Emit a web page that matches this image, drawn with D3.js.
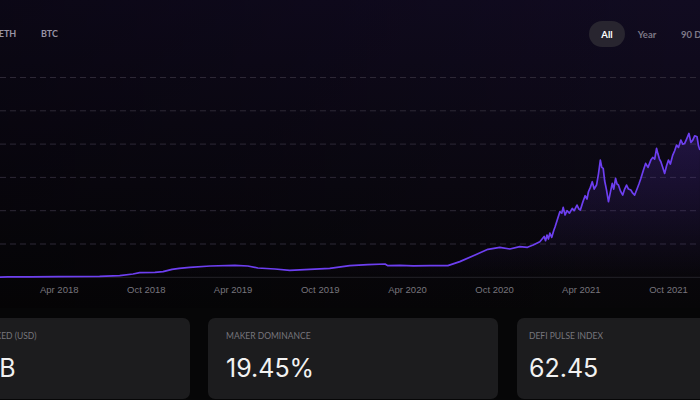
<!DOCTYPE html>
<html>
<head>
<meta charset="utf-8">
<script src="https://cdn.jsdelivr.net/npm/d3@7"></script>
<style>
  html, body { margin: 0; padding: 0; background: #060607; }
  svg { display: block; }
</style>
</head>
<body>
<div id="chart"></div>
<script>
// locked value series (units = gridline steps of 20)
var dates = [
  "2017-11-01", "2017-12-15", "2018-02-01", "2018-04-01", "2018-06-26", "2018-08-07",
  "2018-09-04", "2018-09-18", "2018-10-20", "2018-11-06", "2018-11-25", "2018-12-10",
  "2019-01-01", "2019-02-13", "2019-04-06", "2019-05-03", "2019-05-24", "2019-06-29",
  "2019-07-30", "2019-09-10", "2019-10-22", "2019-12-03", "2020-01-10", "2020-02-15",
  "2020-02-21", "2020-03-17", "2020-04-15", "2020-05-19", "2020-06-26", "2020-07-21",
  "2020-08-22", "2020-09-18", "2020-10-13", "2020-11-03", "2020-11-24", "2020-12-10",
  "2020-12-22", "2021-01-05", "2021-01-14", "2021-01-17", "2021-01-20", "2021-01-23",
  "2021-01-26", "2021-01-30", "2021-02-03", "2021-02-06", "2021-02-10", "2021-02-16",
  "2021-02-20", "2021-02-23", "2021-02-27", "2021-03-03", "2021-03-08", "2021-03-14",
  "2021-03-18", "2021-03-24", "2021-03-28", "2021-03-31", "2021-04-05", "2021-04-10",
  "2021-04-14", "2021-04-17", "2021-04-21", "2021-04-25", "2021-04-29", "2021-05-04",
  "2021-05-08", "2021-05-12", "2021-05-15", "2021-05-18", "2021-05-21", "2021-05-25",
  "2021-05-29", "2021-06-02", "2021-06-06", "2021-06-09", "2021-06-13", "2021-06-16",
  "2021-06-19", "2021-06-23", "2021-06-28", "2021-07-02", "2021-07-06", "2021-07-10",
  "2021-07-15", "2021-07-19", "2021-07-23", "2021-07-28", "2021-08-01", "2021-08-05",
  "2021-08-10", "2021-08-15", "2021-08-20", "2021-08-26", "2021-08-30", "2021-09-03",
  "2021-09-07", "2021-09-10", "2021-09-13", "2021-09-16", "2021-09-20", "2021-09-24",
  "2021-09-28", "2021-10-02", "2021-10-06", "2021-10-11", "2021-10-15", "2021-10-19",
  "2021-10-23", "2021-10-28", "2021-11-01", "2021-11-05", "2021-11-09", "2021-11-14",
  "2021-11-18", "2021-11-22", "2021-11-26", "2021-12-01", "2021-12-04", "2021-12-07"
];
var values = [
  0.1, 0.2, 0.3, 0.4, 0.5, 1.0,
  2.0, 2.8, 3.0, 3.4, 4.8, 5.4,
  6.0, 6.8, 7.2, 6.8, 5.6, 5.0,
  4.2, 4.8, 5.4, 7.0, 7.6, 8.0,
  7.0, 7.2, 6.9, 7.0, 7.0, 9.4,
  13.4, 16.8, 18.0, 17.0, 18.4, 18.0,
  19.4, 21.4, 24.5, 22.0, 25.4, 23.0,
  26.5, 24.0, 28.0, 30.4, 34.0, 39.4,
  38.5, 42.0, 37.4, 40.0, 38.5, 41.4,
  40.0, 43.4, 41.0, 40.4, 45.0, 49.0,
  47.0, 51.4, 54.0, 57.4, 53.0, 55.4,
  62.0, 70.4, 66.0, 65.4, 58.0, 52.4,
  45.4, 51.0, 56.4, 53.0, 59.4, 56.0,
  55.4, 52.0, 49.4, 53.0, 55.4, 53.0,
  52.4, 50.5, 49.4, 53.0, 56.0, 59.4,
  64.0, 68.4, 66.0, 70.4, 72.0, 71.0,
  77.4, 74.0, 71.0, 69.4, 66.0, 62.4,
  67.0, 70.4, 68.0, 73.4, 76.0, 79.4,
  78.0, 82.4, 80.0, 80.4, 83.0, 86.4,
  81.0, 82.4, 85.0, 84.4, 79.0, 76.4
];
var tickDates = ["2018-04-01", "2018-10-01", "2019-04-01", "2019-10-01",
                 "2020-04-01", "2020-10-01", "2021-04-01", "2021-10-01"];
var yTicks = [0, 20, 40, 60, 80, 100, 120];
var tokenTabs = ["ETH", "BTC"];
var rangeTabs = ["All", "Year", "90 Days"];
var cardLabels = ["TOTAL VALUE LOCKED (USD)", "MAKER DOMINANCE", "DEFI PULSE INDEX"];
var cardValues = ["$84.62B", "19.45%", "62.45"];

var vWidth = 700, vHeight = 400;
var parseDate = d3.timeParse("%Y-%m-%d");
var vData = dates.map(function (d, i) { return { date: parseDate(d), value: values[i] }; });

var svg = d3.select("#chart").append("svg")
  .attr("width", vWidth)
  .attr("height", vHeight);

var defs = svg.append("defs");
var bgGrad = defs.append("linearGradient").attr("id", "bg-v")
  .attr("x1", 0).attr("y1", 0).attr("x2", 0).attr("y2", 1);
bgGrad.append("stop").attr("offset", "0%").attr("stop-color", "#110b21");
bgGrad.append("stop").attr("offset", "100%").attr("stop-color", "#070608");
var bgShade = defs.append("linearGradient").attr("id", "bg-h")
  .attr("x1", 0).attr("y1", 0).attr("x2", 1).attr("y2", 0);
bgShade.append("stop").attr("offset", "0%").attr("stop-color", "#000").attr("stop-opacity", 0.35);
bgShade.append("stop").attr("offset", "100%").attr("stop-color", "#000").attr("stop-opacity", 0);
var areaGrad = defs.append("linearGradient").attr("id", "area-fill")
  .attr("gradientUnits", "userSpaceOnUse")
  .attr("x1", 0).attr("y1", 77).attr("x2", 0).attr("y2", 277);
areaGrad.append("stop").attr("offset", "0%").attr("stop-color", "#6a3ce0").attr("stop-opacity", 0.3);
areaGrad.append("stop").attr("offset", "100%").attr("stop-color", "#6a3ce0").attr("stop-opacity", 0);

// panel background
svg.append("rect").attr("width", vWidth).attr("height", 308).attr("fill", "url(#bg-v)");
svg.append("rect").attr("width", vWidth).attr("height", 308).attr("fill", "url(#bg-h)");

// scales
var x = d3.scaleTime()
  .domain([parseDate("2018-04-01"), parseDate("2021-10-01")])
  .range([58.7, 668]);
var y = d3.scaleLinear().domain([0, 120]).range([277.3, 77.5]);

// gridlines
svg.append("g").selectAll("line")
  .data(yTicks)
  .enter().append("line")
    .attr("x1", 0).attr("x2", vWidth)
    .attr("y1", function (d) { return y(d); })
    .attr("y2", function (d) { return y(d); })
    .attr("stroke", function (d) { return d === 0 ? "#242228" : "#2d2836"; })
    .attr("stroke-dasharray", function (d) { return d === 0 ? null : "6,4"; })
    .attr("stroke-width", 1);

// area + line
var area = d3.area()
  .x(function (d) { return x(d.date); })
  .y0(y(0))
  .y1(function (d) { return y(d.value); });
var line = d3.line()
  .x(function (d) { return x(d.date); })
  .y(function (d) { return y(d.value); });

svg.append("path").datum(vData).attr("d", area).attr("fill", "url(#area-fill)");
svg.append("path").datum(vData).attr("d", line)
  .attr("fill", "none")
  .attr("stroke", "#6d3ff0")
  .attr("stroke-width", 1.7)
  .attr("stroke-linejoin", "round");

// x axis
var xAxis = svg.append("g")
  .attr("transform", "translate(0," + y(0) + ")")
  .call(d3.axisBottom(x)
    .tickValues(tickDates.map(parseDate))
    .tickFormat(d3.timeFormat("%b %Y"))
    .tickSize(0).tickPadding(9));
xAxis.select(".domain").remove();
xAxis.selectAll("text")
  .attr("fill", "#77757d")
  .style("font-family", "'Liberation Sans', Arial, sans-serif")
  .style("font-size", "9.5px");

// tabs
svg.append("g").selectAll("text")
  .data(tokenTabs)
  .enter().append("text")
    .attr("x", function (d, i) { return 7.5 + i * 42; })
    .attr("y", 37)
    .attr("text-anchor", "middle")
    .attr("fill", "#9893a4")
    .style("font-family", "Lato, sans-serif")
    .style("font-weight", 700)
    .style("font-size", "9px")
    .text(function (d) { return d; });

svg.append("rect")
  .attr("x", 589).attr("y", 21).attr("width", 36).attr("height", 26).attr("rx", 13)
  .attr("fill", "#28252f");
svg.append("g").selectAll("text")
  .data(rangeTabs)
  .enter().append("text")
    .attr("x", function (d, i) { return [607, 647, 681][i]; })
    .attr("y", 37.5)
    .attr("text-anchor", function (d, i) { return i === 2 ? "start" : "middle"; })
    .attr("fill", function (d, i) { return i === 0 ? "#ffffff" : "#7d7987"; })
    .style("font-family", "Lato, sans-serif")
    .style("font-weight", 700)
    .style("font-size", "9.5px")
    .text(function (d) { return d; });

// stat cards
var cardX = [-100, 208, 517];
var labelPad = [23, 18, 12];
var valuePad = [15, 18, 12];
var cards = svg.append("g").selectAll("g")
  .data(cardLabels)
  .enter().append("g")
    .attr("transform", function (d, i) { return "translate(" + cardX[i] + ",318)"; });
cards.append("rect")
  .attr("width", 290).attr("height", 81).attr("rx", 7)
  .attr("fill", "#1c1c1e");
cards.append("text")
  .attr("x", function (d, i) { return labelPad[i]; }).attr("y", 21)
  .attr("fill", "#77767c")
  .style("font-family", "Lato, sans-serif")
  .style("font-size", "8.5px")
  .text(function (d) { return d; });
cards.append("text")
  .attr("x", function (d, i) { return valuePad[i]; }).attr("y", 59)
  .attr("fill", "#f2f2f2")
  .style("font-family", "Inter, sans-serif")
  .style("font-size", "25px")
  .text(function (d, i) { return cardValues[i]; });
</script>
</body>
</html>
